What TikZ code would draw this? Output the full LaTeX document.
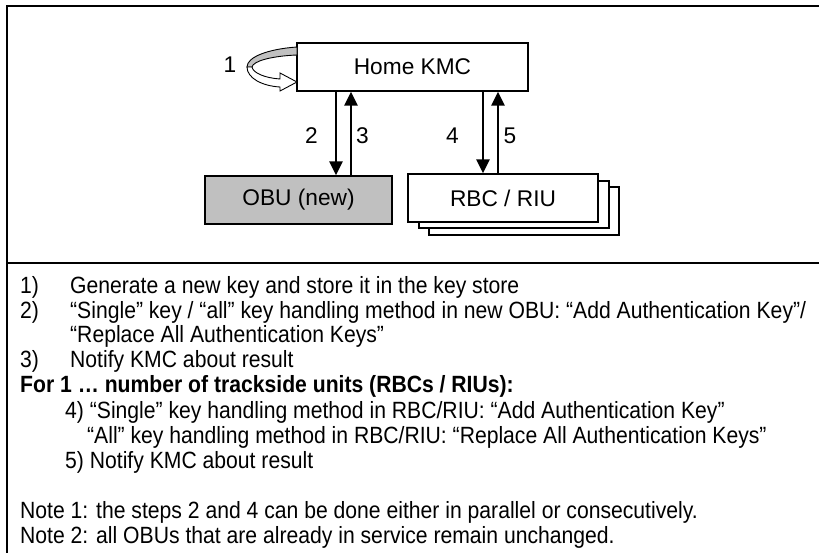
\documentclass[tikz,border=0pt]{standalone}
\usepackage{fontspec}
\setmainfont{Liberation Sans}
\newfontfamily\narrowfont[FakeStretch=0.9]{Liberation Sans}
\usetikzlibrary{arrows.meta}
\tikzset{
  boxnode/.style={draw=black, line width=1.3pt, fill=white, inner sep=0pt, font=\fontsize{22.7}{26}\selectfont},
  flowarr/.style={line width=2.4pt, -{Triangle[length=14pt,width=13pt]}},
  lbl/.style={font=\fontsize{22.7}{26}\selectfont, inner sep=0pt},
  txt/.style={anchor=base west, inner sep=0pt, font=\narrowfont\fontsize{23.5}{24.5}\selectfont},
  frame/.style={line width=2pt}
}
\begin{document}
\begin{tikzpicture}[x=1pt,y=-1pt]
\useasboundingbox (0,0) rectangle (819,553);
\fill[white] (0,0) rectangle (819,553);
% frame
\draw[frame] (7,553) -- (7,6) -- (819,6);
\draw[frame] (7,263) -- (819,263);
% boxes
\node[boxnode, minimum width=231pt, minimum height=48pt] (kmc) at (412.5,67) {Home KMC};
\node[boxnode, fill={rgb,255:red,192;green,192;blue,192}, minimum width=187pt, minimum height=48pt] (obu) at (298.5,200) {OBU (new)};
\node[boxnode, minimum width=190pt, minimum height=48pt] (rbc3) at (524,211) {};
\node[boxnode, minimum width=190pt, minimum height=47pt] (rbc2) at (514,204.5) {};
\node[boxnode, minimum width=190pt, minimum height=48pt] (rbc) at (503,198) {RBC / RIU};
% arrows
\draw[flowarr] (336,0 |- kmc.south) -- (336,0 |- obu.north);
\draw[flowarr] (351,0 |- obu.north) -- (351,0 |- kmc.south);
\draw[flowarr] (483,0 |- kmc.south) -- (483,0 |- rbc.north);
\draw[flowarr] (498,0 |- rbc.north) -- (498,0 |- kmc.south);
% labels
\node[lbl] (l1) at (230,65) {1};
\node[lbl] (l2) at (311.5,135.5) {2};
\node[lbl] (l3) at (362.5,135.5) {3};
\node[lbl] (l4) at (452.5,135.5) {4};
\node[lbl] (l5) at (510,135.5) {5};
% loop arrow
\filldraw[fill={rgb,255:red,192;green,192;blue,192}, draw=black, line width=0.9pt]
  (297,47) .. controls (268,49) and (247,57) .. (247,67)
  -- (252,67) .. controls (253,61) and (272,56) .. (297,55) -- cycle;
\filldraw[fill=white, draw=black, line width=0.9pt]
  (247,67) .. controls (247,78) and (262,86) .. (280,87)
  -- (280,91) -- (297,82) -- (280,73) -- (280,79)
  .. controls (265,78) and (253,73) .. (252,67) -- cycle;
% text
\node[txt] (t1n) at (20,293.7) {1)};
\node[txt] (t1) at (70,293.7) {Generate a new key and store it in the key store};
\node[txt] (t2n) at (20,318.2) {2)};
\node[txt] (t2) at (70,318.2) {“Single” key / “all” key handling method in new OBU: “Add Authentication Key”/};
\node[txt] (t2b) at (70,342.7) {“Replace All Authentication Keys”};
\node[txt] (t3n) at (20,367.2) {3)};
\node[txt] (t3) at (70,367.2) {Notify KMC about result};
\node[txt, font=\narrowfont\fontsize{23.5}{24.5}\selectfont\bfseries] (tfor) at (20,392) {For 1 … number of trackside units (RBCs / RIUs):};
\node[txt] (t4) at (65,418) {4) “Single” key handling method in RBC/RIU: “Add Authentication Key”};
\node[txt] (t4b) at (87,443) {“All” key handling method in RBC/RIU: “Replace All Authentication Keys”};
\node[txt] (t5) at (65,468) {5) Notify KMC about result};
\node[txt] (n1) at (20,518) {Note 1: the steps 2 and 4 can be done either in parallel or consecutively.};
\node[txt] (n2) at (20,543) {Note 2: all OBUs that are already in service remain unchanged.};
\end{tikzpicture}
\end{document}
